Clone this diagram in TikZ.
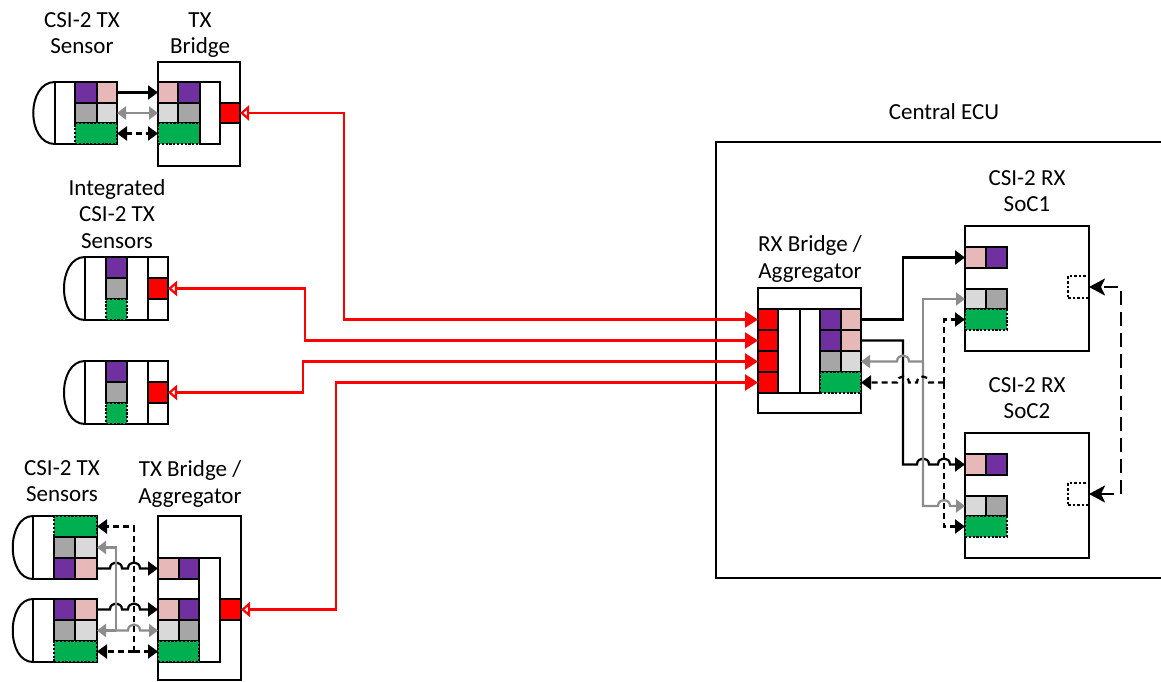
\documentclass[tikz,border=0pt]{standalone}
\usepackage{fontspec}
\setmainfont{Carlito}
\usetikzlibrary{arrows.meta}
\definecolor{cpurple}{HTML}{7030A0}
\definecolor{cpink}{HTML}{E6B9B8}
\definecolor{cdgray}{HTML}{A6A6A6}
\definecolor{clgray}{HTML}{D9D9D9}
\definecolor{cgreen}{HTML}{00B050}
\definecolor{cline}{HTML}{8C8C8C}
\definecolor{cred}{HTML}{FF0000}
\newcommand\cb[6][]{\node[cellst,#1,minimum width={(#5-#3)*1pt},minimum height={(#6-#4)*1pt}] (#2) at ({(#3+#5)/2},{(#4+#6)/2}) {};}
\tikzset{
  cellst/.style={draw, line width=2pt, inner sep=0pt, outer sep=0pt, fill=white},
  boxst/.style={draw, line width=2pt},
  pu/.style={fill=cpurple}, pk/.style={fill=cpink}, dg/.style={fill=cdgray}, lg/.style={fill=clgray},
  gr/.style={fill=cgreen, dash pattern=on 2.2pt off 1.6pt},
  rd/.style={fill=cred},
  dsq/.style={fill=none, dash pattern=on 2.6pt off 2pt},
  blk/.style={draw=black, line width=2.2pt},
  gry/.style={draw=cline, line width=2.2pt},
  dsh/.style={draw=black, line width=2.2pt, dash pattern=on 6pt off 4pt},
  redl/.style={draw=cred, line width=2.2pt},
  lbl/.style={font=\fontsize{23}{26.5}\selectfont, align=center, inner sep=0pt},
  tipb/.tip={Triangle[length=10pt,width=14pt]},
  tipg/.tip={Triangle[length=9pt,width=13pt]},
  tips/.tip={Stealth[length=16pt,width=17pt,inset=4pt]},
  tiprf/.tip={Triangle[length=13pt,width=16pt]},
  tipro/.tip={Triangle[open,length=9pt,width=15pt,fill=white]},
}
\begin{document}
\begin{tikzpicture}[x=1pt,y=-1pt]
\useasboundingbox (0,0) rectangle (1161,682);
% ---------- labels
\node[lbl] (tS1) at (82,33) {CSI-2 TX\\Sensor};
\node[lbl] (tB1) at (200,35) {TX\\Bridge};
\node[lbl] (tI) at (117,214) {Integrated\\CSI-2 TX\\Sensors};
\node[lbl] (tSA) at (62,481) {CSI-2 TX\\Sensors};
\node[lbl] (tB3) at (190,484) {TX Bridge /\\Aggregator};
\node[lbl] (tECU) at (944,112) {Central ECU};
\node[lbl] (tRX) at (810,259) {RX Bridge /\\Aggregator};
\node[lbl] (tC1) at (1027,191) {CSI-2 RX\\SoC1};
\node[lbl] (tC2) at (1027,398) {CSI-2 RX\\SoC2};
% ---------- central ECU
\node[boxst, inner sep=0pt, minimum width=460pt, minimum height=436pt] (ECU) at (946,360) {};
% ---------- top-left sensor
\draw[boxst] (55,82) .. controls (26,82) and (26,144) .. (55,144);
\cb{S1}{55}{82}{117}{144}
\cb[pu]{S1pu}{75}{82}{97}{103}
\cb[pk]{S1pk}{97}{82}{117}{103}
\cb[dg]{S1dg}{75}{103}{97}{123}
\cb[lg]{S1lg}{97}{103}{117}{123}
\cb[gr]{S1gr}{75}{123}{117}{144}
% TX bridge
\cb{B1}{158}{62}{240}{166}
\cb[pk]{B1pk}{158}{82}{178}{103}
\cb[pu]{B1pu}{178}{82}{200}{103}
\cb[lg]{B1lg}{158}{103}{178}{123}
\cb[dg]{B1dg}{178}{103}{200}{123}
\cb[gr]{B1gr}{158}{123}{200}{144}
\cb{B1c}{200}{82}{220}{144}
\cb[rd]{B1rd}{220}{103}{240}{123}
\draw[blk,-{tipb}] (S1pk.east) -- (B1pk.west);
\draw[gry,{tipg}-{tipg}] (S1lg.east) -- (B1lg.west);
\draw[dsh,{tipb}-{tipb}] (S1gr.east) -- (B1gr.west);
% ---------- integrated sensors
\draw[boxst] (85,257) .. controls (57,257) and (57,320) .. (85,320);
\cb{I1}{85}{257}{168}{320}
\cb[pu]{I1pu}{106}{257}{127}{278}
\cb[dg]{I1dg}{106}{278}{127}{299}
\cb[gr]{I1gr}{106}{299}{127}{320}
\cb{I1w1}{148}{257}{168}{278}
\cb[rd]{I1rd}{148}{278}{168}{299}
\cb{I1w2}{148}{299}{168}{320}
\draw[boxst] (85,361) .. controls (57,361) and (57,424) .. (85,424);
\cb{I2}{85}{361}{168}{424}
\cb[pu]{I2pu}{106}{361}{127}{382}
\cb[dg]{I2dg}{106}{382}{127}{403}
\cb[gr]{I2gr}{106}{403}{127}{424}
\cb{I2w1}{148}{361}{168}{382}
\cb[rd]{I2rd}{148}{382}{168}{403}
\cb{I2w2}{148}{403}{168}{424}
% ---------- bottom-left sensors
\draw[boxst] (33,516) .. controls (6,516) and (6,579) .. (33,579);
\cb{SA}{33}{516}{97}{579}
\cb[gr]{SAgr}{54}{516}{97}{537}
\cb[dg]{SAdg}{54}{537}{75}{558}
\cb[lg]{SAlg}{75}{537}{97}{558}
\cb[pu]{SApu}{54}{558}{75}{579}
\cb[pk]{SApk}{75}{558}{97}{579}
\draw[boxst] (33,599) .. controls (6,599) and (6,662) .. (33,662);
\cb{SB}{33}{599}{97}{662}
\cb[pu]{SBpu}{54}{599}{75}{620}
\cb[pk]{SBpk}{75}{599}{97}{620}
\cb[dg]{SBdg}{54}{620}{75}{641}
\cb[lg]{SBlg}{75}{620}{97}{641}
\cb[gr]{SBgr}{54}{641}{97}{662}
% TX bridge / aggregator
\cb{B3}{158}{516}{241}{680}
\cb{B3in}{158}{558}{220}{662}
\cb{B3c}{199}{558}{220}{662}
\cb[pk]{B3pkA}{158}{558}{179}{579}
\cb[pu]{B3puA}{179}{558}{199}{579}
\cb[pk]{B3pkB}{158}{599}{179}{620}
\cb[pu]{B3puB}{179}{599}{199}{620}
\cb[lg]{B3lg}{158}{620}{179}{641}
\cb[dg]{B3dg}{179}{620}{199}{641}
\cb[gr]{B3gr}{158}{641}{199}{662}
\cb[rd]{B3rd}{220}{599}{241}{620}
\draw[blk,-{tipb}] (SApk.east) -- (110,568.5) .. controls (110,560.5) and (122,560.5) .. (122,568.5) -- (128,568.5) .. controls (128,560.5) and (140,560.5) .. (140,568.5) -- (B3pkA.west);
\draw[blk,-{tipb}] (SBpk.east) -- (110,609.5) .. controls (110,601.5) and (122,601.5) .. (122,609.5) -- (128,609.5) .. controls (128,601.5) and (140,601.5) .. (140,609.5) -- (B3pkB.west);
\draw[gry,-{tipg}] (116,630.5) |- (SAlg.east);
\draw[gry,-{tipg}] (116,630.5) -- (SBlg.east);
\draw[gry,-{tipg}] (116,630.5) -- (128,630.5) .. controls (128,622.5) and (140,622.5) .. (140,630.5) -- (B3lg.west);
\draw[dsh,-{tipb}] (134,651.5) |- (SAgr.east);
\draw[dsh,-{tipb}] (134,651.5) -- (SBgr.east);
\draw[dsh,-{tipb}] (134,651.5) -- (B3gr.west);
% ---------- RX bridge
\cb{RX}{758}{288}{861}{413}
\cb[rd]{RXr1}{758}{309}{778}{330}
\cb[rd]{RXr2}{758}{330}{778}{351}
\cb[rd]{RXr3}{758}{351}{778}{372}
\cb[rd]{RXr4}{758}{372}{778}{393}
\cb{RXw1}{778}{309}{800}{393}
\cb{RXw2}{800}{309}{820}{393}
\cb[pu]{RXpu1}{820}{309}{841}{330}
\cb[pk]{RXpk1}{841}{309}{861}{330}
\cb[pu]{RXpu2}{820}{330}{841}{351}
\cb[pk]{RXpk2}{841}{330}{861}{351}
\cb[dg]{RXdg}{820}{351}{841}{372}
\cb[lg]{RXlg}{841}{351}{861}{372}
\cb[gr]{RXgr}{820}{372}{861}{393}
% ---------- red links
\draw[redl,{tipro}-{tiprf}] (B1rd.east) -| (344,319.5) -- (RXr1.west);
\draw[redl,{tipro}-{tiprf}] (I1rd.east) -| (305,340.5) -- (RXr2.west);
\draw[redl,{tipro}-{tiprf}] (I2rd.east) -| (303,361.5) -- (RXr3.west);
\draw[redl,{tipro}-{tiprf}] (B3rd.east) -| (336,382.5) -- (RXr4.west);
% ---------- SoCs
\cb{C1}{965}{226}{1089}{351}
\cb[pk]{C1pk}{965}{247}{986}{268}
\cb[pu]{C1pu}{986}{247}{1007}{268}
\cb[lg]{C1lg}{965}{289}{986}{309}
\cb[dg]{C1dg}{986}{289}{1007}{309}
\cb[gr]{C1gr}{965}{309}{1007}{330}
\cb[dsq]{C1sq}{1068}{276}{1089}{298}
\cb{C2}{965}{433}{1089}{558}
\cb[pk]{C2pk}{965}{454}{986}{475}
\cb[pu]{C2pu}{986}{454}{1007}{475}
\cb[lg]{C2lg}{965}{496}{986}{516}
\cb[dg]{C2dg}{986}{496}{1007}{516}
\cb[gr]{C2gr}{965}{516}{1007}{537}
\cb[dsq]{C2sq}{1068}{483}{1089}{505}
% ---------- RX to SoC links
\draw[blk,-{tipb}] (RXpk1.east) -- (903,319.5) |- (C1pk.west);
\draw[blk,-{tipb}] (RXpk2.east) -- (903,340.5) -- (903,464.5) -- (917,464.5) .. controls (917,456.5) and (929,456.5) .. (929,464.5) -- (938,464.5) .. controls (938,456.5) and (950,456.5) .. (950,464.5) -- (C2pk.west);
\draw[gry,-{tipg}] (923,361.5) -- (909,361.5) .. controls (909,353.5) and (897,353.5) .. (897,361.5) -- (RXlg.east);
\draw[gry,-{tipg}] (923,361.5) |- (C1lg.west);
\draw[gry,-{tipg}] (923,361.5) -- (923,506) -- (938,506) .. controls (938,498) and (950,498) .. (950,506) -- (C2lg.west);
\draw[dsh,-{tipb}] (944,382.5) -- (929,382.5) .. controls (929,374.5) and (917,374.5) .. (917,382.5) -- (909,382.5) .. controls (909,374.5) and (897,374.5) .. (897,382.5) -- (RXgr.east);
\draw[dsh,-{tipb}] (944,382.5) |- (C1gr.west);
\draw[dsh,-{tipb}] (944,382.5) |- (C2gr.west);
\draw[line width=2.2pt, dash pattern=on 14pt off 7pt, {tips}-{tips}] (C2sq.east) -| (1121,287) -- (C1sq.east);
\end{tikzpicture}
\end{document}
